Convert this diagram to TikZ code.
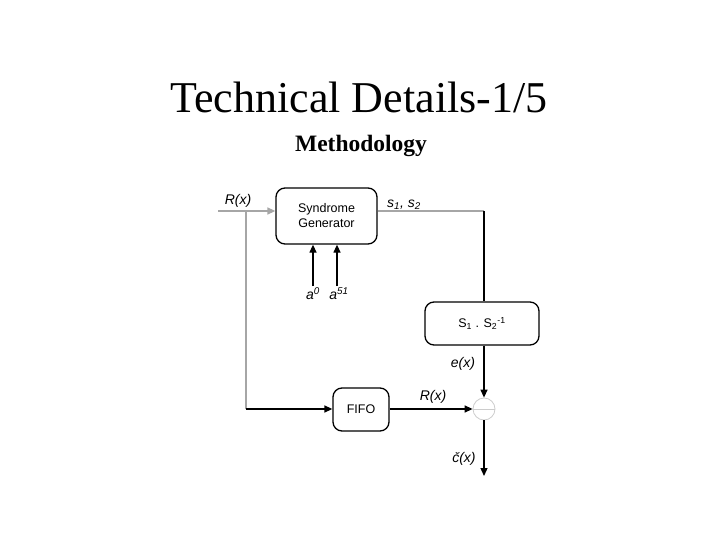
\documentclass[tikz,border=0pt]{standalone}
\usepackage{fontspec}
\setmainfont{Liberation Serif}
\newfontfamily\arial{Liberation Sans}
\usetikzlibrary{arrows.meta}
\begin{document}
\begin{tikzpicture}[x=1pt,y=-1pt,
  blk/.style={draw=black,line width=1.3pt,rounded corners=9pt,font=\arial\fontsize{12.5}{15}\selectfont,align=center,inner sep=0pt},
  gline/.style={draw=gray!70,line width=1.3pt},
  bline/.style={draw=black,line width=1.3pt},
  arr/.style={-{Triangle[length=8pt,width=7pt]}},
  lbl/.style={font=\arial\itshape\fontsize{14}{16}\selectfont,inner sep=0pt}]
\useasboundingbox (0,0) rectangle (720,540);
\node[font=\fontsize{44}{48}\selectfont] (title) at (359,97) {Technical Details-1/5};
\node[font=\bfseries\fontsize{23.5}{26}\selectfont] (sub) at (361,146) {Methodology};

\node[blk,minimum width=101pt,minimum height=56pt] (sg) at (326.5,216) {Syndrome\\Generator};
\node[blk,minimum width=114pt,minimum height=43pt] (ss) at (482,323.5) {S\textsubscript{1} . S\textsubscript{2}\textsuperscript{-1}};
\node[blk,minimum width=56pt,minimum height=43pt] (fifo) at (361,409.5) {FIFO};
\node[draw=gray!40,circle,minimum size=22pt,inner sep=0pt,line width=0.8pt] (sum) at (484,409) {};
\draw[gray!40,line width=0.8pt] (sum.west) -- (sum.east);

\coordinate (in) at (218,211);
\coordinate (br) at (246,211);
\coordinate (brd) at (246,409);
\coordinate (tr) at (484,211);
\coordinate (a0) at (313,286);
\coordinate (a51) at (337,286);
\coordinate (out) at (484,476);

\draw[gline,arr] (in) -- (in -| sg.west);
\draw[gline] (br) -- (brd);
\draw[bline,arr] (brd) -- (brd -| fifo.west);
\draw[gline] (sg.east |- tr) -- (tr);
\draw[bline] (tr) -- (ss.north -| tr);
\draw[bline,arr] (ss.south -| sum) -- (sum.north);
\draw[bline,arr] (sum.west -| fifo.east) -- (sum.west);
\draw[bline,arr] (sum.south) -- (out);
\draw[bline,arr] (a0) -- (a0 |- sg.south);
\draw[bline,arr] (a51) -- (a51 |- sg.south);

\node[lbl] (lr) at (238,201) {R(x)};
\node[lbl] (ls) at (404,205) {s\textsubscript{1}, s\textsubscript{2}};
\node[lbl] (la0) at (313,294) {a\textsuperscript{0}};
\node[lbl] (la51) at (339,294) {a\textsuperscript{51}};
\node[lbl] (le) at (463,364) {e(x)};
\node[lbl] (lr2) at (433,397) {R(x)};
\node[lbl] (lc) at (464,459) {\u{c}(x)};
\end{tikzpicture}
\end{document}
